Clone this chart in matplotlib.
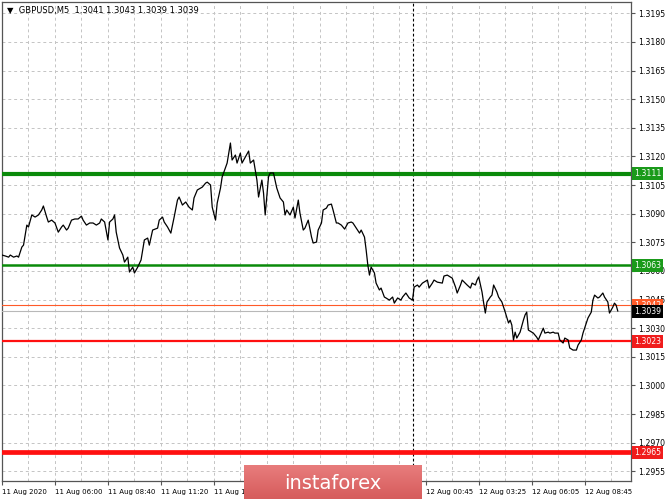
import numpy as np
import matplotlib
matplotlib.use("Agg")
import matplotlib.pyplot as plt
from matplotlib.colors import LinearSegmentedColormap

# GBPUSD M5 closes (bar index, price)
bars = [0, 2, 4, 5, 7, 9, 10, 12, 13, 15, 16, 18, 20, 22, 24, 25, 27, 28, 30, 32,
        34, 36, 37, 39, 40, 42, 44, 46, 48, 49, 51, 53, 55, 57, 59, 60, 62, 64, 65, 67,
        68, 69, 71, 73, 74, 76, 77, 79, 80, 82, 84, 86, 88, 89, 91, 94, 95, 97, 98, 100,
        102, 104, 106, 107, 109, 111, 113, 115, 116, 118, 121, 123, 124, 126, 127, 129, 130, 132, 133, 136,
        138, 139, 141, 142, 144, 145, 147, 149, 150, 152, 153, 154, 155, 157, 158, 159, 161, 162, 164, 166,
        168, 170, 171, 172, 174, 176, 177, 179, 180, 182, 183, 185, 187, 188, 190, 191, 193, 194, 196, 197,
        199, 200, 202, 203, 205, 207, 209, 211, 212, 214, 216, 217, 219, 220, 221, 222, 223, 225, 226, 228,
        229, 231, 232, 234, 236, 237, 239, 241, 242, 244, 246, 248, 249, 251, 252, 254, 257, 258, 260, 261,
        263, 266, 267, 269, 272, 274, 275, 277, 278, 281, 283, 284, 286, 287, 288, 290, 291, 292, 293, 295,
        296, 297, 299, 300, 302, 304, 306, 307, 308, 309, 310, 311, 313, 315, 316, 317, 318, 320, 321, 323,
        324, 326, 327, 328, 330, 331, 333, 334, 336, 337, 339, 340, 342, 343, 345, 347, 348, 350, 351, 353,
        354, 356, 357, 358, 360, 361, 363, 364, 366, 367, 369, 370, 371, 372]
closes = [1.30683, 1.30678, 1.30672, 1.30683, 1.30672, 1.30678, 1.30672, 1.30725, 1.30735, 1.30840,
          1.30830, 1.30893, 1.30882, 1.30893, 1.30919, 1.30940, 1.30882, 1.30856, 1.30866, 1.30851,
          1.30803, 1.30830, 1.30840, 1.30814, 1.30824, 1.30866, 1.30872, 1.30872, 1.30887, 1.30866,
          1.30840, 1.30851, 1.30851, 1.30840, 1.30851, 1.30872, 1.30856, 1.30762, 1.30856, 1.30872,
          1.30893, 1.30803, 1.30720, 1.30683, 1.30646, 1.30672, 1.30594, 1.30620, 1.30589, 1.30620,
          1.30657, 1.30762, 1.30772, 1.30735, 1.30814, 1.30824, 1.30866, 1.30882, 1.30856, 1.30830,
          1.30798, 1.30882, 1.30971, 1.30987, 1.30945, 1.30961, 1.30934, 1.30919, 1.30982, 1.31024,
          1.31039, 1.31060, 1.31065, 1.31050, 1.30934, 1.30866, 1.30955, 1.31034, 1.31092, 1.31165,
          1.31270, 1.31181, 1.31207, 1.31165, 1.31217, 1.31165, 1.31196, 1.31228, 1.31165, 1.31181,
          1.31128, 1.31076, 1.30987, 1.31076, 1.31008, 1.30893, 1.31092, 1.31113, 1.31113, 1.31034,
          1.30982, 1.30961, 1.30893, 1.30919, 1.30893, 1.30934, 1.30877, 1.30971, 1.30903, 1.30814,
          1.30824, 1.30866, 1.30777, 1.30746, 1.30751, 1.30814, 1.30851, 1.30919, 1.30929, 1.30945,
          1.30950, 1.30919, 1.30851, 1.30851, 1.30840, 1.30819, 1.30851, 1.30856, 1.30851, 1.30824,
          1.30798, 1.30814, 1.30777, 1.30709, 1.30631, 1.30578, 1.30620, 1.30589, 1.30536, 1.30500,
          1.30510, 1.30463, 1.30458, 1.30447, 1.30463, 1.30431, 1.30458, 1.30447, 1.30463, 1.30484,
          1.30458, 1.30447, 1.30515, 1.30526, 1.30515, 1.30536, 1.30552, 1.30510, 1.30536, 1.30552,
          1.30541, 1.30536, 1.30573, 1.30578, 1.30562, 1.30515, 1.30484, 1.30526, 1.30552, 1.30526,
          1.30510, 1.30536, 1.30526, 1.30552, 1.30568, 1.30489, 1.30431, 1.30379, 1.30437, 1.30463,
          1.30473, 1.30526, 1.30489, 1.30463, 1.30437, 1.30384, 1.30327, 1.30342, 1.30316, 1.30238,
          1.30279, 1.30248, 1.30279, 1.30342, 1.30369, 1.30384, 1.30290, 1.30279, 1.30274, 1.30253,
          1.30238, 1.30279, 1.30300, 1.30274, 1.30279, 1.30274, 1.30279, 1.30274, 1.30274, 1.30238,
          1.30222, 1.30248, 1.30238, 1.30196, 1.30185, 1.30185, 1.30211, 1.30238, 1.30274, 1.30327,
          1.30353, 1.30384, 1.30447, 1.30473, 1.30458, 1.30463, 1.30484, 1.30463, 1.30437, 1.30379,
          1.30410, 1.30431, 1.30421, 1.30390]

# labels under the watermark are not visible in the source, left blank
tick_bars = [0, 32, 64, 96, 128, 160, 192, 224, 256, 288, 320, 352]
tick_labels = ["11 Aug 2020", "11 Aug 06:00", "11 Aug 08:40", "11 Aug 11:20", "11 Aug 14:00",
               "", "", "", "12 Aug 00:45", "12 Aug 03:25",
               "12 Aug 06:05", "12 Aug 08:45"]
price_ticks = [1.2955, 1.2970, 1.2985, 1.3000, 1.3015, 1.3030, 1.3045, 1.3060, 1.3075,
               1.3090, 1.3105, 1.3120, 1.3135, 1.3150, 1.3165, 1.3180, 1.3195]
day_sep = 248

# levels: price, line color, width, label color
levels = [(1.3111, "#0a8a0a", 3.0, "#1a9a1a"),
          (1.3063, "#0a8a0a", 1.8, "#1a9a1a"),
          (1.3023, "#ff1010", 1.6, "#f01c1c"),
          (1.2965, "#ff1010", 3.4, "#f01c1c")]
ask = 1.3042
bid = 1.3039

W, H = 665, 499
fig = plt.figure(figsize=(W / 100, H / 100), dpi=100)
fig.patch.set_facecolor("white")
ax = fig.add_axes([2 / W, 18 / H, 629 / W, 479 / H])
ax.set_xlim(0, 380)
ax.set_ylim(1.29499, 1.32009)

for s in ax.spines.values():
    s.set_color("#555555")
    s.set_linewidth(0.9)

# grid
for b in range(16, 380, 16):
    ax.axvline(b, color="#c4c4c4", lw=0.7, ls=(0, (3, 3)), zorder=0)
for p in price_ticks:
    ax.axhline(p, color="#c4c4c4", lw=0.7, ls=(0, (3, 3)), zorder=0)
ax.axvline(day_sep, color="black", lw=0.8, ls=(0, (2.5, 2)), zorder=1)

fs = 5.6
ax.yaxis.tick_right()
ax.set_yticks(price_ticks)
ax.set_yticklabels(["%.4f" % p for p in price_ticks], fontsize=fs)
ax.tick_params(axis="y", length=3, width=0.8, pad=2, colors="#555555", labelcolor="black")
ax.set_xticks(tick_bars)
ax.set_xticklabels(tick_labels, fontsize=5.0, ha="left")
ax.tick_params(axis="x", length=3, width=0.8, pad=3, colors="#555555", labelcolor="black")

# levels
trans = ax.get_yaxis_transform()
for p, c, lw, bc in levels:
    ax.axhline(p, color=c, lw=lw, zorder=3)
    ax.text(1.0 + 3 / 629, p, "%.4f" % p, transform=trans, fontsize=fs, color="white",
            va="center", ha="left", clip_on=False, zorder=5,
            bbox=dict(boxstyle="square,pad=0.25", fc=bc, ec="none"))

ax.axhline(ask, color="#ff5a28", lw=0.8, zorder=3)
ax.axhline(bid, color="#b8b8b8", lw=0.8, zorder=3)
ax.text(1.0 + 3 / 629, ask, "%.4f" % ask, transform=trans, fontsize=fs, color="white",
        va="center", ha="left", clip_on=False, zorder=5,
        bbox=dict(boxstyle="square,pad=0.25", fc="#ff5a28", ec="none"))
ax.text(1.0 + 3 / 629, bid - 0.00002, "%.4f" % bid, transform=trans, fontsize=fs, color="white",
        va="center", ha="left", clip_on=False, zorder=6,
        bbox=dict(boxstyle="square,pad=0.25", fc="black", ec="none"))

# price
ax.plot(bars, closes, color="black", lw=0.9, zorder=4)

ax.text(5 / 629, 1 - 9 / 479, "\u25BC  GBPUSD,M5  1.3041 1.3043 1.3039 1.3039", transform=ax.transAxes,
        fontsize=6, va="center", ha="left", zorder=6)

# watermark
wax = fig.add_axes([244 / W, 0, 177 / W, 34 / H])
cmap = LinearSegmentedColormap.from_list("wm", ["#e87c7c", "#d65c5c"])
wax.imshow(np.linspace(0, 1, 50).reshape(-1, 1), cmap=cmap, aspect="auto", extent=[0, 1, 0, 1])
wax.set_xlim(0, 1)
wax.set_ylim(0, 1)
wax.axis("off")
wax.text(0.5, 0.47, "instaforex", color="white", fontsize=14, ha="center", va="center")

fig.savefig("out.png", dpi=100)
